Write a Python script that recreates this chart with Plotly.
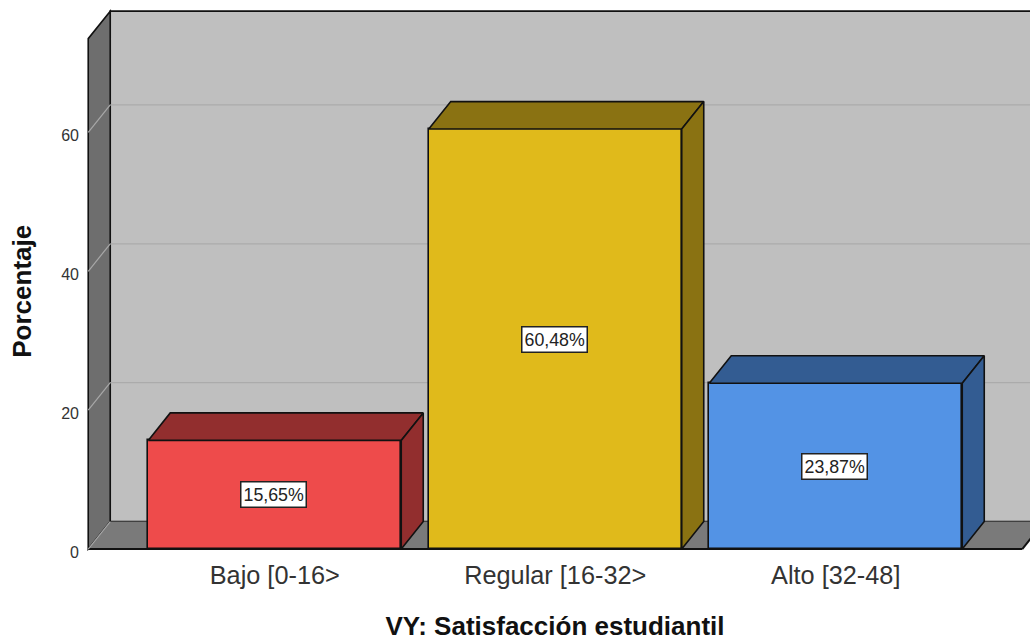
import plotly.graph_objects as go

categories = ["Bajo [0-16>", "Regular [16-32>", "Alto [32-48]"]
values = [15.65, 60.48, 23.87]
labels = ["15,65%", "60,48%", "23,87%"]
y_ticks = [0, 20, 40, 60]

front_colors = ["#EE4B4B", "#E0BA1B", "#5393E5"]
top_colors = ["#922E2E", "#8A7212", "#335C92"]
side_colors = ["#922E2E", "#8A7212", "#335C92"]

PITCH = 280.5
UNIT = 6.95
DX = 22 / PITCH
DY = 27.5 / UNIT
BAR_W = 253 / PITCH
X0, X1 = -0.665, 2.665
Y_TOP = 73.5
ML = 80
W, H = 1030, 641
ZERO_PX = 549.5
Y_BOTTOM = -1.0

x_range = [(ML - 274.75) / PITCH, (W - 274.75) / PITCH]
y_range = [Y_BOTTOM, ZERO_PX / UNIT]
MB = H - (ZERO_PX - Y_BOTTOM * UNIT)
PLOT_W, PLOT_H = W - ML, H - MB

shapes = []
def poly(xs, ys, fill, line="#111111", width=1.6):
    path = "M " + " L ".join(f"{x},{y}" for x, y in zip(xs, ys)) + " Z"
    shapes.append(dict(type="path", path=path, xref="x", yref="y", fillcolor=fill,
                       line=dict(color=line, width=width), layer="below"))

poly([X0 + DX, X1 + 2 * DX, X1 + 2 * DX, X0 + DX], [DY, DY, Y_TOP + DY, Y_TOP + DY], "#BFBFBF")
poly([X0, X0 + DX, X0 + DX, X0], [0, DY, Y_TOP + DY, Y_TOP], "#6E6E6E")
poly([X0, X0 + DX, X1 + DX, X1], [0, DY, DY, 0], "#7A7A7A", width=0.1)
shapes.append(dict(type="line", xref="x", yref="y", x0=X0, x1=X1, y0=0, y1=0,
                   line=dict(color="#111111", width=2), layer="below"))
shapes.append(dict(type="line", xref="x", yref="y", x0=X1, x1=X1 + DX, y0=0, y1=DY,
                   line=dict(color="#111111", width=2), layer="below"))
for t in y_ticks[1:]:
    shapes.append(dict(type="line", xref="x", yref="y", x0=X0 + DX, x1=X1 + 2 * DX, y0=t + DY, y1=t + DY,
                       line=dict(color="#ABABAB", width=1.2), layer="below"))
for t in y_ticks:
    shapes.append(dict(type="line", xref="x", yref="y", x0=X0, x1=X0 + DX, y0=t, y1=t + DY,
                       line=dict(color="#A8A8A8", width=1.2), layer="below"))

fig = go.Figure()
fig.add_trace(go.Bar(x=[0, 1, 2], y=values, width=BAR_W,
                     marker=dict(color=front_colors, line=dict(color="#111111", width=1.6)),
                     hoverinfo="skip", showlegend=False))

for i, v in enumerate(values):
    l, r = i - BAR_W / 2, i + BAR_W / 2
    fig.add_trace(go.Scatter(x=[l, l + DX, r + DX, r, l], y=[v, v + DY, v + DY, v, v],
                             mode="lines", fill="toself", fillcolor=top_colors[i],
                             line=dict(color="#111111", width=1.6), hoverinfo="skip", showlegend=False))
    fig.add_trace(go.Scatter(x=[r, r + DX, r + DX, r, r], y=[0, DY, v + DY, v, 0],
                             mode="lines", fill="toself", fillcolor=side_colors[i],
                             line=dict(color="#111111", width=1.6), hoverinfo="skip", showlegend=False))

annotations = [dict(x=i, y=v / 2, xref="x", yref="y", text=labels[i], showarrow=False, xshift=-1,
                    font=dict(family="Liberation Sans", size=17.8, color="#222222"),
                    bgcolor="white", bordercolor="#222222", borderwidth=1.5, borderpad=2)
               for i, v in enumerate(values)]
annotations.append(dict(x=(22 - ML) / PLOT_W, y=(PLOT_H - 292) / PLOT_H, xref="paper", yref="paper",
                        text="<b>Porcentaje</b>", textangle=-90, showarrow=False,
                        xanchor="center", yanchor="middle",
                        font=dict(family="Liberation Sans", size=26, color="#111111")))

fig.update_layout(
    width=W, height=H, autosize=False, paper_bgcolor="white", plot_bgcolor="white",
    margin=dict(l=ML, r=0, t=0, b=MB),
    shapes=shapes, annotations=annotations, showlegend=False,
    font=dict(family="Liberation Sans", color="#333333"),
    bargap=0,
    xaxis=dict(range=x_range, tickmode="array", tickvals=[0, 1, 2], ticktext=categories,
               showgrid=False, zeroline=False, showline=False, ticks="", tickfont=dict(size=25.3),
               ticklabelstandoff=2,
               title=dict(text="<b>VY: Satisfacción estudiantil</b>", font=dict(size=26, color="#111111"), standoff=29)),
    yaxis=dict(range=y_range, tickmode="array", tickvals=y_ticks, ticktext=[str(t) for t in y_ticks],
               showgrid=False, zeroline=False, showline=False, ticks="", tickfont=dict(size=16),
               ticklabelshift=3),
)
fig.write_html("out.html", post_script="document.body.style.margin='0';", config={"displayModeBar": False})
